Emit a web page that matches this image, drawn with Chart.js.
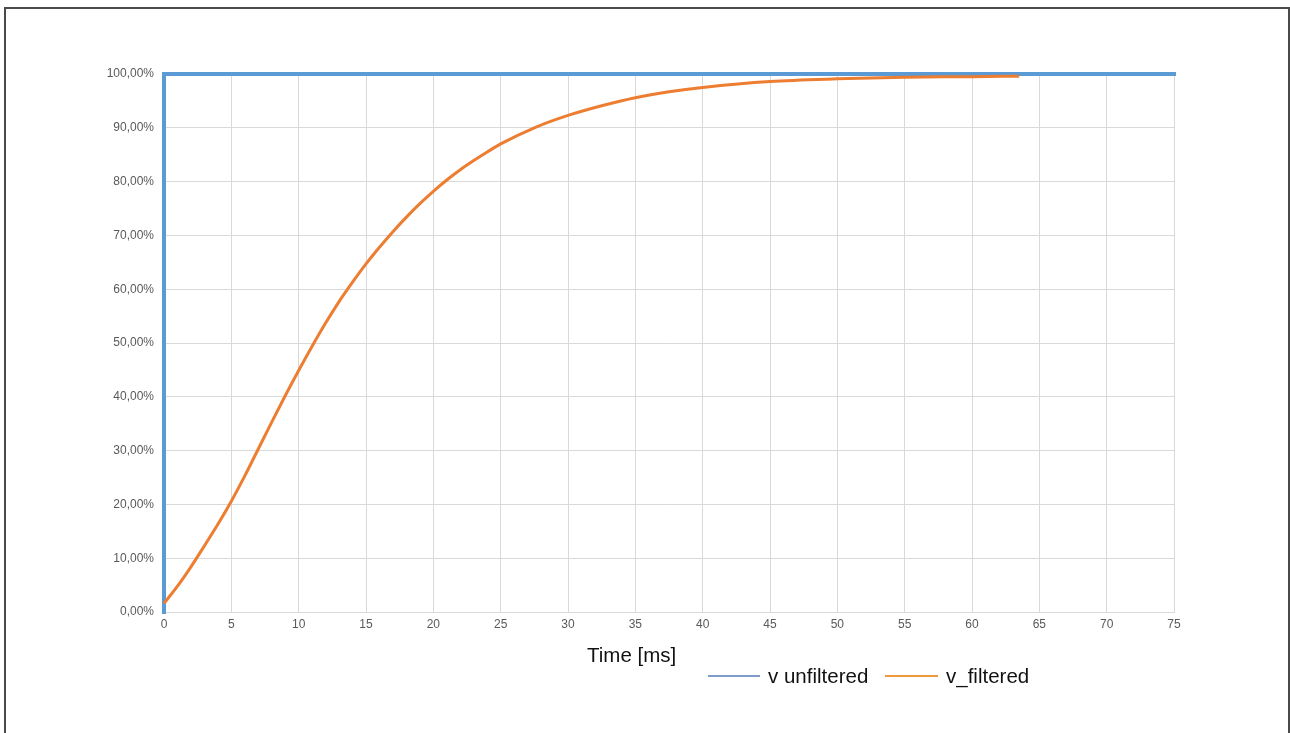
<!DOCTYPE html>
<html>
<head>
<meta charset="utf-8">
<script src="https://cdn.jsdelivr.net/npm/chart.js@4.4.1/dist/chart.umd.min.js"></script>
<style>
    html, body { margin: 0; padding: 0; background: #fff; }
    #wrap { position: relative; width: 1290px; height: 733px; overflow: hidden; }
    #frame { position: absolute; left: 4px; top: 7px; width: 1286px; height: 740px; border: 2px solid #4a4a4a; box-sizing: border-box; }
    #chart { position: absolute; left: 0; top: 0; }
    .txt { position: absolute; font-family: "Liberation Sans", Arial, sans-serif; font-size: 20.5px; color: #111; white-space: nowrap; line-height: 1; }
    .swatch { position: absolute; height: 2px; }
</style>
</head>
<body>
<div id="wrap">
    <div id="frame"></div>
    <canvas id="chart" width="1290" height="733"></canvas>
    <div class="txt" style="left:587px; top:645px;">Time [ms]</div>
    <div class="swatch" style="left:708px; top:675px; width:52px; background:#7f9bc8;"></div>
    <div class="txt" style="left:768px; top:666px;">v unfiltered</div>
    <div class="swatch" style="left:885px; top:675px; width:53px; background:#ee9a3a;"></div>
    <div class="txt" style="left:946px; top:666px;">v_filtered</div>
</div>
<script>
    // time in ms, value in %
    const unfilteredTime = [0, 0, 75];
    const unfilteredValue = [0, 100, 100];

    const filteredTime = [0, 1, 2, 3, 4, 5, 6, 7, 8, 9, 10, 11, 12, 13, 14, 15, 16, 17, 18, 19, 20,
        21, 22, 23, 24, 25, 27.5, 30, 32.5, 35, 37.5, 40, 45, 50, 55, 60, 63.5];
    const filteredValue = [1.6, 4.8, 8.4, 12.3, 16.3, 20.6, 25.3, 30.3, 35.3, 40.2, 44.9, 49.4, 53.7, 57.7, 61.3, 64.7, 67.8, 70.7, 73.4, 75.9, 78.2,
        80.3, 82.2, 83.9, 85.5, 87.0, 90.0, 92.3, 94.1, 95.6, 96.7, 97.5, 98.6, 99.1, 99.4, 99.5, 99.6];

    const xTicks = [0, 5, 10, 15, 20, 25, 30, 35, 40, 45, 50, 55, 60, 65, 70, 75];
    const yTicks = [0, 10, 20, 30, 40, 50, 60, 70, 80, 90, 100];

    const toPoints = (xs, ys) => xs.map((x, i) => ({ x, y: ys[i] }));

    const tickFont = { family: '"Liberation Sans", Arial, sans-serif', size: 12 };

    new Chart(document.getElementById('chart'), {
        type: 'line',
        data: {
            datasets: [
                {
                    label: 'v_filtered',
                    data: toPoints(filteredTime, filteredValue),
                    borderColor: '#ed7d31',
                    borderWidth: 3,
                    pointRadius: 0,
                    cubicInterpolationMode: 'monotone',
                    clip: 4,
                    order: 0,
                },
                {
                    label: 'v unfiltered',
                    data: toPoints(unfilteredTime, unfilteredValue),
                    borderColor: '#5b9bd5',
                    borderWidth: 4,
                    borderCapStyle: 'square',
                    pointRadius: 0,
                    tension: 0,
                    clip: 4,
                    order: 1,
                },
            ]
        },
        options: {
            responsive: false,
            animation: false,
            layout: { padding: { top: 74, right: 116, bottom: 0, left: 0 } },
            scales: {
                x: {
                    type: 'linear',
                    min: 0,
                    max: 75,
                    afterFit: (s) => { s.height = 121; },
                    afterBuildTicks: (s) => { s.ticks = xTicks.map(v => ({ value: v })); },
                    grid: { color: '#d9d9d9', drawTicks: false },
                    border: { color: '#d9d9d9' },
                    ticks: { color: '#595959', font: tickFont, padding: 5, maxRotation: 0 },
                },
                y: {
                    min: 0,
                    max: 100,
                    afterFit: (s) => { s.width = 164; },
                    afterBuildTicks: (s) => { s.ticks = yTicks.map(v => ({ value: v })); },
                    grid: { color: '#d9d9d9', drawTicks: false },
                    border: { color: '#d9d9d9' },
                    ticks: {
                        color: '#595959',
                        font: tickFont,
                        padding: 10,
                        callback: (v) => v.toFixed(2).replace('.', ',') + '%',
                    },
                },
            },
            plugins: {
                legend: { display: false },
                tooltip: { enabled: false },
            },
        }
    });
</script>
</body>
</html>
